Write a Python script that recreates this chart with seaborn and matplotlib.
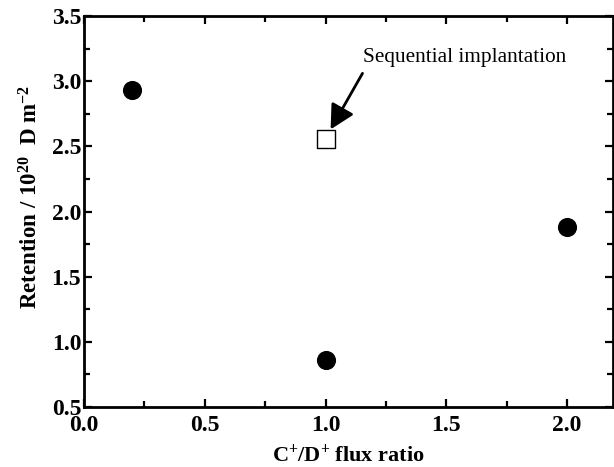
import matplotlib
matplotlib.use("Agg")
import matplotlib.pyplot as plt
from matplotlib.ticker import MultipleLocator, FormatStrFormatter
import seaborn as sns
import pandas as pd

# Deuterium retention vs. C+/D+ flux ratio
flux_ratio = [0.2, 1.0, 2.0]
retention = [2.93, 0.86, 1.88]

seq_ratio = [1.0]
seq_retention = [2.56]

sns.set_style("ticks")
plt.rcParams["font.family"] = ["Liberation Serif", "DejaVu Serif"]
plt.rcParams["mathtext.fontset"] = "custom"
plt.rcParams["mathtext.rm"] = "Liberation Serif:bold"
plt.rcParams["mathtext.bf"] = "Liberation Serif:bold"
plt.rcParams["mathtext.it"] = "Liberation Serif:bold"
for key in ("text.color", "axes.labelcolor", "xtick.color", "ytick.color",
            "axes.edgecolor"):
    plt.rcParams[key] = "black"

fig = plt.figure(figsize=(6.14, 4.67), dpi=100)
ax = fig.add_axes([0.1368, 0.1285, 0.8615, 0.8372])

co_df = pd.DataFrame({"ratio": flux_ratio, "retention": retention})
seq_df = pd.DataFrame({"ratio": seq_ratio, "retention": seq_retention})

sns.scatterplot(data=co_df, x="ratio", y="retention", ax=ax, marker="o",
                s=190, color="black", edgecolor="black", linewidth=0, zorder=3)
sns.scatterplot(data=seq_df, x="ratio", y="retention", ax=ax, marker="s",
                s=150, facecolor="white", edgecolor="black", linewidth=1.0, zorder=3)

ax.set_xlim(0.0, 2.19)
ax.set_ylim(0.5, 3.5)
ax.xaxis.set_major_locator(MultipleLocator(0.5))
ax.xaxis.set_minor_locator(MultipleLocator(0.25))
ax.yaxis.set_major_locator(MultipleLocator(0.5))
ax.yaxis.set_minor_locator(MultipleLocator(0.25))
ax.xaxis.set_major_formatter(FormatStrFormatter("%.1f"))
ax.yaxis.set_major_formatter(FormatStrFormatter("%.1f"))

ax.tick_params(which="both", direction="in", top=True, right=True, width=1.6,
               color="black")
ax.tick_params(which="major", length=6, labelsize=17)
ax.tick_params(axis="x", which="major", pad=6)
ax.tick_params(axis="y", which="major", pad=2)
ax.tick_params(which="minor", length=4)
for lab in ax.get_xticklabels() + ax.get_yticklabels():
    lab.set_fontweight("bold")

for sp in ax.spines.values():
    sp.set_linewidth(2.0)
    sp.set_color("black")

ax.set_xlabel(r"C$^{+}$/D$^{+}$ flux ratio", fontsize=16, fontweight="bold")
ax.xaxis.set_label_coords(0.5, -0.095)
ax.set_ylabel(r"Retention / 10$^{20}$  D m$^{-2}$", fontsize=16.5,
              fontweight="bold")
ax.yaxis.set_label_coords(-0.079, 0.536)

# label and arrow pointing at the sequential-implantation point
ax.text(1.157, 3.185, "Sequential implantation", fontsize=15.3,
        ha="left", va="center")
ax.annotate("", xy=(1.021, 2.63), xytext=(1.153, 3.06),
            arrowprops=dict(arrowstyle="-|>,head_length=1.05,head_width=0.55",
                            mutation_scale=14, color="black", lw=2.0,
                            shrinkA=0, shrinkB=0))

fig.savefig("out.png", dpi=100)
